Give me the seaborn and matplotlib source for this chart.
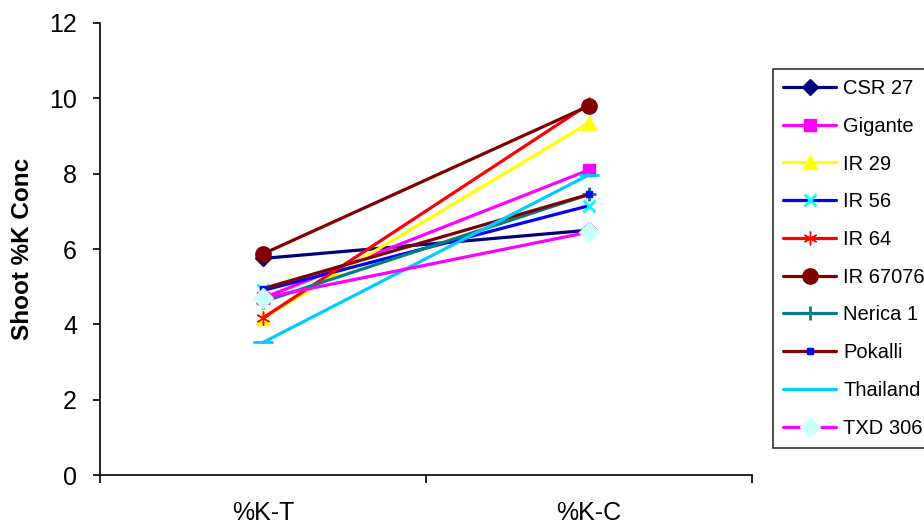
import matplotlib
matplotlib.use("Agg")
import matplotlib.pyplot as plt
import seaborn as sns
import pandas as pd

categories = ["%K-T", "%K-C"]
varieties = ["CSR 27", "Gigante", "IR 29", "IR 56", "IR 64",
             "IR 67076", "Nerica 1", "Pokalli", "Thailand", "TXD 306"]
csr27 = [5.75, 6.5]
gigante = [4.7, 8.1]
ir29 = [4.17, 9.35]
ir56 = [4.9, 7.15]
ir64 = [4.17, 9.85]
ir67076 = [5.87, 9.8]
nerica1 = [4.6, 7.45]
pokalli = [4.95, 7.45]
thailand = [3.52, 7.97]
txd306 = [4.7, 6.45]
values = [csr27, gigante, ir29, ir56, ir64, ir67076, nerica1, pokalli, thailand, txd306]

# line colour, marker, marker face, marker edge, marker size
styles = {
    "CSR 27":   ("#000080", "D", "#000080", "#000080", 8),
    "Gigante":  ("#FF00FF", "s", "#FF00FF", "#FF00FF", 9),
    "IR 29":    ("#FFFF00", "^", "#FFFF00", "#FFFF00", 10),
    "IR 56":    ("#0000FF", "x", "#00FFFF", "#00FFFF", 9),
    "IR 64":    ("#FF0000", (6, 2, 0), "#FF0000", "#FF0000", 10),
    "IR 67076": ("#800000", "o", "#800000", "#800000", 11),
    "Nerica 1": ("#008080", "+", "#008080", "#008080", 10),
    "Pokalli":  ("#800000", "s", "#0000FF", "#0000FF", 4),
    "Thailand": ("#00CCFF", "_", "#00CCFF", "#00CCFF", 14),
    "TXD 306":  ("#FF00FF", "D", "#CCFFFF", "#CCFFFF", 10),
}

df = pd.DataFrame(
    [(v, c, y) for v, ys in zip(varieties, values) for c, y in zip(categories, ys)],
    columns=["variety", "category", "value"],
)
df["pos"] = df["category"].map({c: i for i, c in enumerate(categories)})

sns.set_style("white")
plt.rcParams["font.family"] = ["Liberation Sans", "DejaVu Sans"]
plt.rcParams["text.color"] = "black"
plt.rcParams["axes.labelcolor"] = "black"
plt.rcParams["xtick.color"] = "black"
plt.rcParams["ytick.color"] = "black"

fig = plt.figure(figsize=(9.24, 5.25), dpi=100)
ax = fig.add_axes([0.1082, 0.0952, 0.8139 - 0.1082, 0.9562 - 0.0952])

for name in varieties:
    lc, mk, mfc, mec, ms = styles[name]
    sub = df[df["variety"] == name]
    sns.lineplot(data=sub, x="pos", y="value", ax=ax, color=lc, linewidth=2.3,
                 marker=mk, markersize=ms, markerfacecolor=mfc, markeredgecolor=mec,
                 markeredgewidth=2 if mk in ("x", "+", "_") else 1,
                 label=name, legend=False)

ax.set_xlim(-0.5, 1.5)
ax.set_ylim(0, 12)
ax.set_yticks(range(0, 13, 2))
ax.set_xticks([0, 1])
ax.set_xticklabels(categories)
ax.set_xticks([-0.5, 0.5, 1.5], minor=True)
ax.tick_params(axis="x", which="major", bottom=False, length=0, pad=19, labelsize=18)
ax.tick_params(axis="x", which="minor", bottom=True, length=6, width=1.2,
               color="black", direction="out")
ax.tick_params(axis="y", left=True, length=5, width=1.2, color="black",
               direction="out", labelsize=18, pad=11.5)
ax.set_xlabel("")
ax.set_ylabel("Shoot %K Conc", fontsize=17.5, fontweight="bold", labelpad=11)

for side in ("top", "right"):
    ax.spines[side].set_visible(False)
for side in ("left", "bottom"):
    ax.spines[side].set_color("black")
    ax.spines[side].set_linewidth(1.2)

handles, labels = ax.get_legend_handles_labels()
leg = fig.legend(handles, labels, loc="upper left", bbox_to_anchor=(0.8366, 0.8686),
                 bbox_transform=fig.transFigure, borderaxespad=0, frameon=True,
                 fancybox=False, edgecolor="black", fontsize=14.5, handlelength=2.64,
                 handletextpad=0.35, labelspacing=0.93, borderpad=0.5)
leg.get_frame().set_linewidth(1.2)

fig.savefig("out.png", dpi=100)
